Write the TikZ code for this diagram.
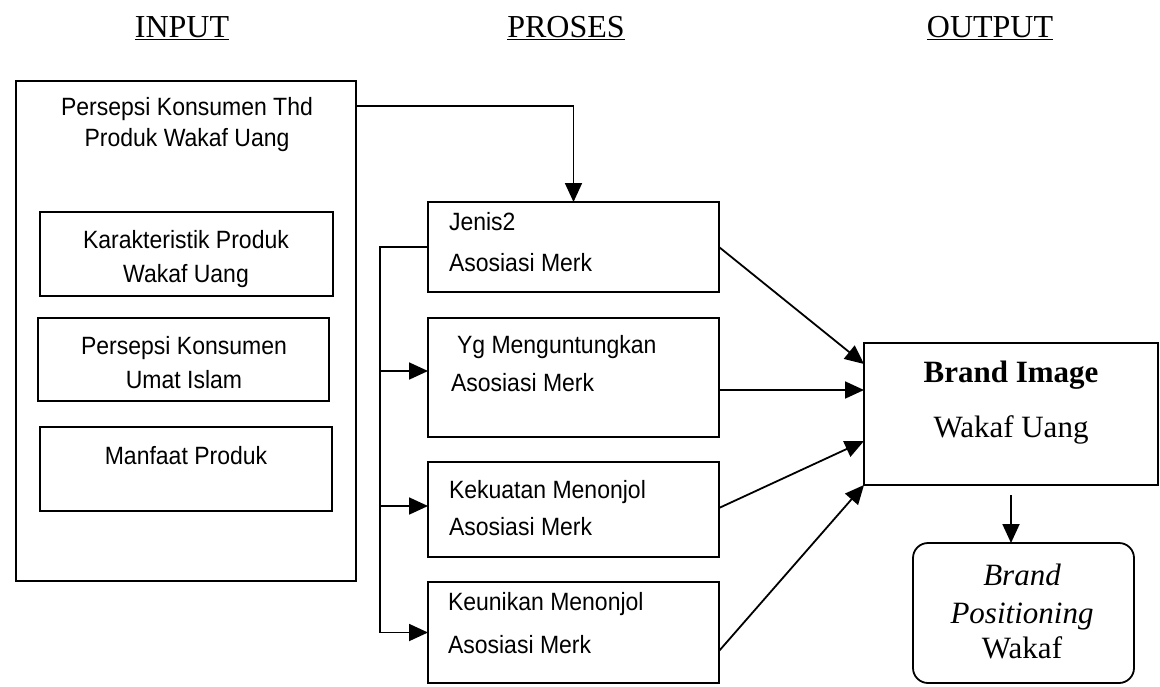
\documentclass[tikz,border=0pt]{standalone}
\usepackage{fontspec}
\setmainfont{Liberation Serif}
\newfontfamily\arialfam[FakeStretch=0.92]{Liberation Sans}
\usetikzlibrary{arrows.meta}

\begin{document}
\begin{tikzpicture}[x=1pt, y=-1pt,
  every node/.style={inner sep=0pt, outer sep=0pt},
  frame/.style={draw, line width=1.8pt, rectangle},
  sanslbl/.style={font=\arialfam\fontsize{25}{30}\selectfont, anchor=base},
  seriflbl/.style={font=\fontsize{31}{37}\selectfont, anchor=base},
  heading/.style={seriflbl, font=\fontsize{32}{37}\selectfont},
  conn/.style={line width=1.8pt},
  arr/.style={conn, -{Triangle[length=19pt,width=17pt]}}]

\useasboundingbox (0,0) rectangle (1160,686);

% column headings
\node[heading] (hin)  at (182,37) {\underline{INPUT}};
\node[heading] (hpro) at (566,37) {\underline{PROSES}};
\node[heading] (hout) at (990,37) {\underline{OUTPUT}};

% ---------- input column ----------
\node[frame, minimum width=340pt, minimum height=500pt] (L) at (186,331) {};
\node[sanslbl] (l1) at (187,115) {Persepsi Konsumen Thd};
\node[sanslbl] (l2) at (187,146) {Produk Wakaf Uang};

\node[frame, minimum width=293pt, minimum height=84pt] (A) at (186.5,254) {};
\node[sanslbl] (a1) at (186,248) {Karakteristik Produk};
\node[sanslbl] (a2) at (186,282) {Wakaf Uang};

\node[frame, minimum width=291pt, minimum height=83pt] (B) at (183.5,359.5) {};
\node[sanslbl] (b1) at (184,354) {Persepsi Konsumen};
\node[sanslbl] (b2) at (184,388) {Umat Islam};

\node[frame, minimum width=292pt, minimum height=84pt] (C) at (186,469) {};
\node[sanslbl] (c1) at (186,464) {Manfaat Produk};

% ---------- process column ----------
\node[frame, minimum width=291pt, minimum height=90pt]  (J) at (573.5,247) {};
\node[sanslbl, anchor=base west] (j1) at (449,230) {Jenis2};
\node[sanslbl, anchor=base west] (j2) at (449,271) {Asosiasi Merk};

\node[frame, minimum width=291pt, minimum height=119pt] (Y) at (573.5,377.5) {};
\node[sanslbl, anchor=base west] (y1) at (457,353) {Yg Menguntungkan};
\node[sanslbl, anchor=base west] (y2) at (451,391) {Asosiasi Merk};

\node[frame, minimum width=291pt, minimum height=95pt]  (K) at (573.5,509.5) {};
\node[sanslbl, anchor=base west] (k1) at (449,498) {Kekuatan Menonjol};
\node[sanslbl, anchor=base west] (k2) at (449,535) {Asosiasi Merk};

\node[frame, minimum width=291pt, minimum height=101pt] (U) at (573.5,632.5) {};
\node[sanslbl, anchor=base west] (u1) at (448,610) {Keunikan Menonjol};
\node[sanslbl, anchor=base west] (u2) at (448,653) {Asosiasi Merk};

% ---------- output column ----------
\node[frame, minimum width=294pt, minimum height=142pt] (BI) at (1011,414) {};
\node[seriflbl, font=\bfseries\fontsize{31}{37}\selectfont] (bi1) at (1011,382) {Brand Image};
\node[seriflbl] (bi2) at (1011,437) {Wakaf Uang};

\node[frame, rounded corners=15pt, minimum width=221pt, minimum height=140pt] (P) at (1023.5,613) {};
\node[seriflbl, font=\itshape\fontsize{31}{37}\selectfont] (p1) at (1022,585) {Brand};
\node[seriflbl, font=\itshape\fontsize{31}{37}\selectfont] (p2) at (1022,623) {Positioning};
\node[seriflbl] (p3) at (1022,658) {Wakaf};

% ---------- connectors ----------
% input block feeds the first association box
\draw[arr] (L.north east) ++(0,25) -| (J.north);

% distribution bus from the first association box
\coordinate (bus) at (380,247);
\draw[conn] (J.west) -- (bus) -- (bus |- U.west);
\draw[arr] ([yshift=6.5pt]Y.west -| bus) -- ([yshift=6.5pt]Y.west);
\draw[arr] ([yshift=3.5pt]K.west -| bus) -- ([yshift=3.5pt]K.west);
\draw[arr] (U.west -| bus) -- (U.west);

% associations converge on the brand image
\draw[arr] (J.east) -- ([yshift=-21pt]BI.north west);
\draw[arr] ([yshift=-12.5pt]Y.east) -- ([yshift=-12.5pt]Y.east -| BI.west);
\draw[arr] ([yshift=1.5pt]K.east) -- ([yshift=-27pt]BI.west);
\draw[arr] ([yshift=-18.5pt]U.east) -- (BI.south west);

% brand image leads to positioning
\draw[arr] ([yshift=-10pt]BI.south) -- (BI.south |- P.north);
\end{tikzpicture}
\end{document}
